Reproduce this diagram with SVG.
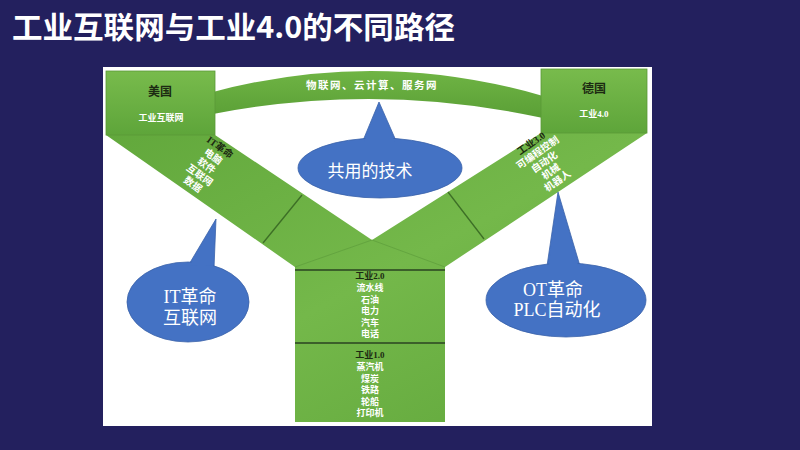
<svg xmlns="http://www.w3.org/2000/svg" width="800" height="450" viewBox="0 0 800 450">
<defs>
<linearGradient id="gBox" x1="0" y1="0" x2="0" y2="1">
<stop offset="0" stop-color="#78bb4c"/>
<stop offset="1" stop-color="#5ea53a"/>
</linearGradient>
<linearGradient id="gY" x1="0" y1="0" x2="1" y2="1">
<stop offset="0" stop-color="#62a83c"/>
<stop offset="0.5" stop-color="#74b84a"/>
<stop offset="1" stop-color="#60a63b"/>
</linearGradient>
<linearGradient id="gArc" x1="0" y1="0" x2="0" y2="1">
<stop offset="0" stop-color="#6fb444"/>
<stop offset="1" stop-color="#5a9f36"/>
</linearGradient>
</defs>
<style>
.bg{fill:#23205e}
.panel{fill:#ffffff}
.box{fill:url(#gBox);stroke:#5a9a38;stroke-width:0.8}
.yshape{fill:url(#gY)}
.div{stroke:#3d6f26;stroke-width:1.3;fill:none}
.thick{stroke:#3b5f2a;stroke-width:2.2;fill:none}
.fold{stroke:#5b9a3a;stroke-width:0.8;fill:none;opacity:0.8}
.call{fill:#4472c4;stroke:#3a62aa;stroke-width:0.8}
.t{font-family:"Liberation Serif","Noto Sans CJK SC",serif;text-anchor:middle}
.dk{fill:#1c2a12;font-weight:bold}
.wh{fill:#ffffff;font-weight:bold}
.s9{font-size:9px}
.s95{font-size:9.8px}
.s12{font-size:12px}
.ct{font-family:"Liberation Serif","Noto Sans CJK SC",serif;font-size:18px;fill:#ffffff;text-anchor:middle}
</style>
<rect class="bg" x="0" y="0" width="800" height="450"/>
<text x="12" y="38" font-family="'Noto Sans CJK SC','Noto Sans',sans-serif" font-size="30" font-weight="bold" fill="#ffffff" textLength="443" lengthAdjust="spacingAndGlyphs">工业互联网与工业4.0的不同路径</text>
<rect class="panel" x="103" y="67" width="549" height="359"/>

<g id="arc">
<path d="M213,92 Q378,48 543,96 L543,118 Q378,82 213,114 Z" fill="url(#gArc)"/>
<text class="t wh" x="372" y="89" font-size="10.5" letter-spacing="1.5">物联网、云计算、服务网</text>
</g>

<g id="yshape">
<polygon class="yshape" points="106,135 215,135 372,240 541,133 647,133 445,267 445,422 295,422 295,267"/>
</g>

<g id="connectors">
<line class="div" x1="302" y1="195" x2="263" y2="243"/>
<line class="div" x1="448" y1="192" x2="484" y2="239"/>
<polyline class="fold" points="295,267 372,240 445,267"/>
<line class="thick" x1="295" y1="270" x2="445" y2="270"/>
<line class="thick" x1="295" y1="343" x2="445" y2="343"/>
</g>

<g id="usa">
<rect class="box" x="106" y="71" width="109" height="64"/>
<text class="t dk s12" x="160" y="96">美国</text>
<text class="t wh s9" x="161" y="121">工业互联网</text>
</g>

<g id="germany">
<rect class="box" x="541" y="69" width="106" height="64"/>
<text class="t dk s12" x="594" y="93">德国</text>
<text class="t wh s9" x="594" y="117">工业4.0</text>
</g>

<g id="it-arm" transform="translate(218,150) rotate(36)">
<text class="t dk s95" x="0" y="0">IT革命</text>
<text class="t wh s95" x="0" y="11.5">电脑</text>
<text class="t wh s95" x="0" y="23">软件</text>
<text class="t wh s95" x="0" y="34.5">互联网</text>
<text class="t wh s95" x="0" y="46">数据</text>
</g>

<g id="ot-arm" transform="translate(533,146) rotate(-35)">
<text class="t dk s95" x="0" y="0">工业3.0</text>
<text class="t wh s95" x="0" y="11.5">可编程控制</text>
<text class="t wh s95" x="0" y="23">自动化</text>
<text class="t wh s95" x="0" y="34.5">机械</text>
<text class="t wh s95" x="0" y="46">机器人</text>
</g>

<g id="industry2">
<text class="t dk s9" x="370" y="279">工业2.0</text>
<text class="t wh s9" x="370" y="291">流水线</text>
<text class="t wh s9" x="370" y="302.5">石油</text>
<text class="t wh s9" x="370" y="314">电力</text>
<text class="t wh s9" x="370" y="325.5">汽车</text>
<text class="t wh s9" x="370" y="337">电话</text>
</g>

<g id="industry1">
<text class="t dk s9" x="370" y="358">工业1.0</text>
<text class="t wh s9" x="370" y="370">蒸汽机</text>
<text class="t wh s9" x="370" y="381.5">煤炭</text>
<text class="t wh s9" x="370" y="393">铁路</text>
<text class="t wh s9" x="370" y="404.5">轮船</text>
<text class="t wh s9" x="370" y="416">打印机</text>
</g>

<g id="callout-shared">
<polygon class="call" points="379,102 362,143 397,143"/>
<ellipse class="call" cx="380" cy="168" rx="82" ry="30"/>
<polygon fill="#4472c4" points="379,104 364,142 395,142"/>
<text x="370" y="177" font-family="'Noto Sans CJK SC',sans-serif" font-size="17" fill="#ffffff" text-anchor="middle">共用的技术</text>
</g>

<g id="callout-it">
<polygon class="call" points="216,219 188,266 214,268"/>
<ellipse class="call" cx="188" cy="302" rx="61" ry="40"/>
<polygon fill="#4472c4" points="215,222 190,265 213,266"/>
<text class="ct" x="190" y="303">IT革命</text>
<text class="ct" x="190" y="324">互联网</text>
</g>

<g id="callout-ot">
<polygon class="call" points="558,192 547,266 580,266"/>
<ellipse class="call" cx="566" cy="300" rx="80" ry="37"/>
<polygon fill="#4472c4" points="558,195 549,265 578,265"/>
<text class="ct" x="553" y="296">OT革命</text>
<text class="ct" x="557" y="316">PLC自动化</text>
</g>
</svg>
